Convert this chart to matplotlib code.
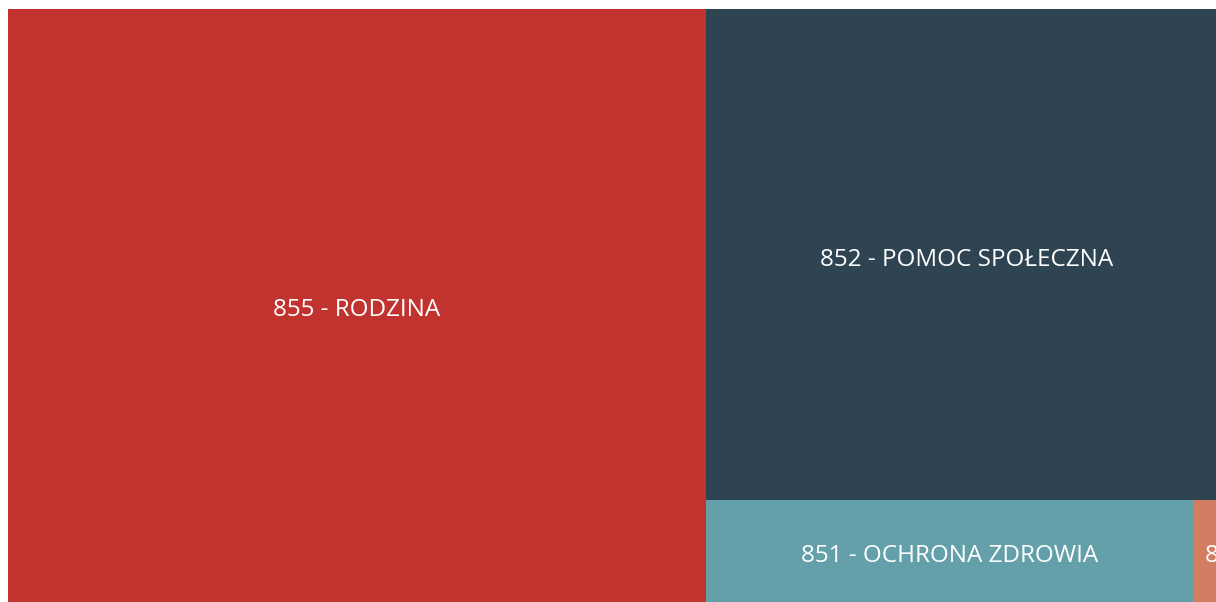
import matplotlib
matplotlib.use("Agg")
import matplotlib.pyplot as plt
from matplotlib.patches import Rectangle

plt.rcParams['font.family'] = ['Open Sans', 'DejaVu Sans']

# dane (obszar w jednostkach umownych)
labels = ['855 - RODZINA', '852 - POMOC SPOŁECZNA', '851 - OCHRONA ZDROWIA', '853 - POZOSTAŁE ZADANIA']
values = [41391, 25630, 4967, 357]
colors = ['#C1332F', '#2F4453', '#64A0A9', '#D37D62']

W, H = 1220.0, 593.0   # rozmiar calej mapy (czesc wychodzi poza obraz)

def layout(vals):
    # prosty uklad: kolumna, potem gora/dol, potem wiersz
    total = sum(vals)
    rects = []
    w0 = W * vals[0] / total
    rects.append((0, 0, w0, H))
    rest = sum(vals[1:])
    h1 = H * vals[1] / rest
    rects.append((w0, 0, W - w0, h1))
    row = sum(vals[2:])
    x = w0
    for v in vals[2:]:
        w = (W - w0) * v / row
        rects.append((x, h1, w, H - h1))
        x += w
    return rects

fig = plt.figure(figsize=(12.16, 6.02), dpi=100)
ax = fig.add_axes([8 / 1216, 0, W / 1216, H / 602])
ax.set_xlim(0, W)
ax.set_ylim(H, 0)
ax.axis('off')

for (x, y, w, h), lab, c in zip(layout(values), labels, colors):
    r = Rectangle((x, y), w, h, facecolor=c, edgecolor='none')
    ax.add_patch(r)
    if w > 100:
        t = ax.text(x + w / 2, y + h / 2 + 5, lab, ha='center', va='center',
                    color='white', fontsize=17.5)
    else:
        t = ax.text(x + 12, y + h / 2 + 5, lab, ha='left', va='center',
                    color='white', fontsize=17.5)
    t.set_clip_path(r)

fig.savefig('out.png', dpi=100)
